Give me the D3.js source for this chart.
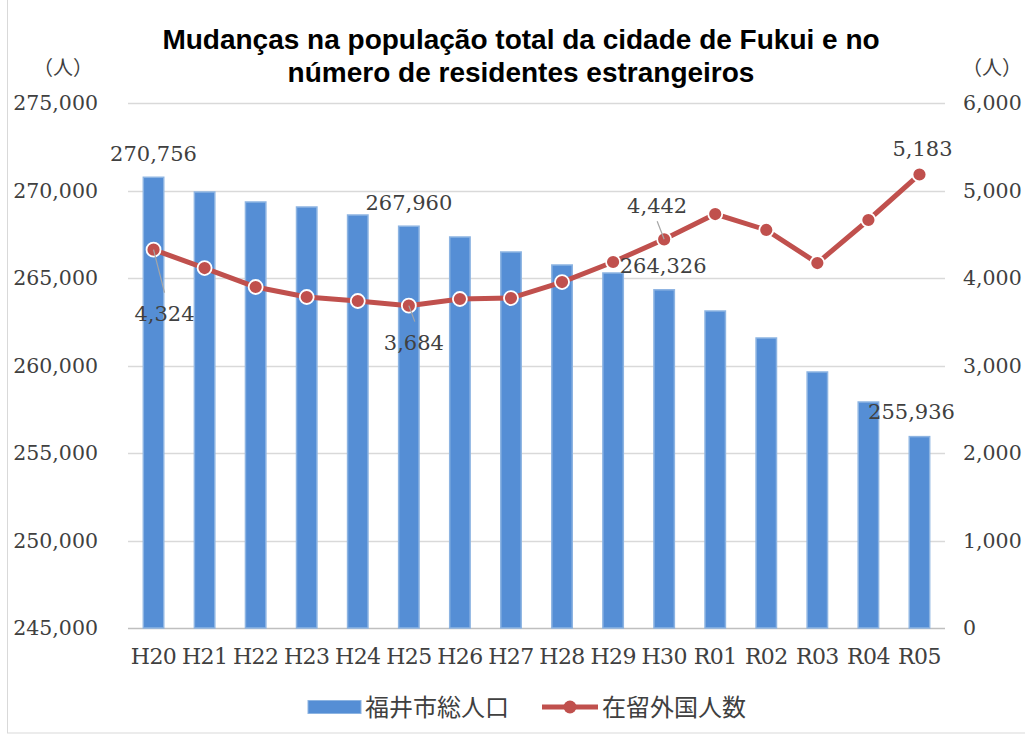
<!DOCTYPE html>
<html>
<head>
<meta charset="utf-8">
<script src="https://cdn.jsdelivr.net/npm/d3@7"></script>
<style>
  body { margin: 0; background: #fff; }
  svg text { font-family: "DejaVu Serif", serif; fill: #404040; }
  .title { font-family: "Liberation Sans", Arial, sans-serif; font-weight: bold; fill: #000; }
  .cjk { font-family: "Noto Sans CJK JP", sans-serif; }
</style>
</head>
<body>
<div id="chart"></div>
<script>
var years = ['H20', 'H21', 'H22', 'H23', 'H24', 'H25', 'H26', 'H27', 'H28', 'H29', 'H30', 'R01', 'R02', 'R03', 'R04', 'R05'];
var population = [270756, 269914, 269343, 269057, 268600, 267960, 267343, 266486, 265743, 265286, 264326, 263114, 261571, 259629, 257914, 255936];
var foreigners = [4324, 4114, 3897, 3783, 3737, 3684, 3760, 3771, 3954, 4183, 4442, 4731, 4549, 4171, 4663, 5183];
var leftTicks = [245000, 250000, 255000, 260000, 265000, 270000, 275000];
var rightTicks = [0, 1000, 2000, 3000, 4000, 5000, 6000];
// which points get a value label
var popLabels = ['H20', 'H25', 'H30', 'R05'];
var forLabels = ['H20', 'H25', 'H30', 'R05'];

var width = 1025, height = 735;
var plotLeft = 128, plotRight = 945, plotTop = 103, plotBottom = 628;

var svg = d3.select('#chart').append('svg')
  .attr('width', width)
  .attr('height', height);

// outer frame
svg.append('rect')
  .attr('x', 7.5).attr('y', -2)
  .attr('width', 1030).attr('height', 735)
  .attr('fill', 'none').attr('stroke', '#d9d9d9');

var x = d3.scaleBand().domain(years).range([plotLeft, plotRight]).paddingInner(0.6).paddingOuter(0.3);
var yL = d3.scaleLinear().domain([245000, 275000]).range([plotBottom, plotTop]);
var yR = d3.scaleLinear().domain([0, 6000]).range([plotBottom, plotTop]);
var fmt = d3.format(',');

// gridlines
svg.append('g').selectAll('line')
  .data(leftTicks)
  .enter().append('line')
  .attr('x1', plotLeft).attr('x2', plotRight)
  .attr('y1', function (d) { return Math.round(yL(d)) + 0.5; })
  .attr('y2', function (d) { return Math.round(yL(d)) + 0.5; })
  .attr('stroke', function (d, i) { return i === 0 ? '#bfbfbf' : '#d9d9d9'; })
  .attr('stroke-width', 1.3);

// axes
var axisL = svg.append('g')
  .attr('transform', `translate(${plotLeft - 30},0)`)
  .call(d3.axisLeft(yL).tickValues(leftTicks).tickFormat(fmt).tickSize(0).tickPadding(0));
var axisR = svg.append('g')
  .attr('transform', `translate(${plotRight + 18},0)`)
  .call(d3.axisRight(yR).tickValues(rightTicks).tickFormat(fmt).tickSize(0).tickPadding(0));
var axisB = svg.append('g')
  .attr('transform', `translate(0,${plotBottom})`)
  .call(d3.axisBottom(x).tickSize(0).tickPadding(20));
[axisL, axisR, axisB].forEach(function (a) {
  a.select('.domain').remove();
  a.selectAll('text').attr('font-family', 'DejaVu Serif').attr('font-size', 20.5).attr('fill', '#595959');
});
axisB.selectAll('text').attr('font-size', 22).attr('letter-spacing', -0.6);

// unit labels
svg.append('text').attr('class', 'cjk').attr('x', 63).attr('y', 75)
  .attr('text-anchor', 'middle').attr('font-size', 20).attr('fill', '#595959').text('（人）');
svg.append('text').attr('class', 'cjk').attr('x', 992).attr('y', 75)
  .attr('text-anchor', 'middle').attr('font-size', 20).attr('fill', '#595959').text('（人）');

// bars
svg.append('g').selectAll('rect')
  .data(years)
  .enter().append('rect')
  .attr('x', function (d) { return x(d); })
  .attr('width', x.bandwidth())
  .attr('y', function (d, i) { return yL(population[i]); })
  .attr('height', function (d, i) { return plotBottom - yL(population[i]); })
  .attr('fill', '#558ed5')
  .attr('stroke', '#8db4e2')
  .attr('stroke-width', 1.5);

// line
var cx = function (d, i) { return x(years[i]) + x.bandwidth() / 2; };
svg.append('path')
  .datum(foreigners)
  .attr('d', d3.line().x(cx).y(function (d) { return yR(d); }))
  .attr('fill', 'none')
  .attr('stroke', '#c0504d')
  .attr('stroke-width', 5);

svg.append('g').selectAll('circle')
  .data(foreigners)
  .enter().append('circle')
  .attr('cx', cx)
  .attr('cy', function (d) { return yR(d); })
  .attr('r', 7)
  .attr('fill', '#c0504d')
  .attr('stroke', '#fff')
  .attr('stroke-width', 1.8);

// data labels for population (offsets relative to bar top)
var popOffsets = { H20: [0, -16], H25: [0, -16], H30: [-1, -17], R05: [-8, -18] };
popLabels.forEach(function (k) {
  var i = years.indexOf(k);
  svg.append('text')
    .attr('x', x(k) + x.bandwidth() / 2 + popOffsets[k][0])
    .attr('y', yL(population[i]) + popOffsets[k][1])
    .attr('text-anchor', 'middle')
    .attr('font-size', 21)
    .text(fmt(population[i]));
});

// data labels for foreigners, leader line end relative to the point
var forOffsets = { H20: [11, 71], H25: [5, 44], H30: [-7, -26], R05: [3, -18] };
var leaderEnds = { H20: [11, 43], H25: [6, 16], H30: [-7, -18], R05: null };
forLabels.forEach(function (k) {
  var i = years.indexOf(k);
  var px = x(k) + x.bandwidth() / 2, py = yR(foreigners[i]);
  var o = forOffsets[k], e = leaderEnds[k];
  if (e) {
    svg.append('line')
      .attr('x1', px).attr('y1', py)
      .attr('x2', px + e[0]).attr('y2', py + e[1])
      .attr('stroke', '#a6a6a6').attr('stroke-width', 1.2);
  }
  svg.append('text')
    .attr('x', px + o[0])
    .attr('y', py + o[1])
    .attr('text-anchor', 'middle')
    .attr('font-size', 21)
    .text(fmt(foreigners[i]));
});

// title
svg.append('text').attr('class', 'title').attr('x', 521).attr('y', 49)
  .attr('text-anchor', 'middle').attr('font-size', 28)
  .text('Mudanças na população total da cidade de Fukui e no');
svg.append('text').attr('class', 'title').attr('x', 521).attr('y', 82)
  .attr('text-anchor', 'middle').attr('font-size', 28)
  .text('número de residentes estrangeiros');

// legend
var legend = svg.append('g').attr('transform', 'translate(0,707)');
legend.append('rect').attr('x', 308).attr('y', -6.5).attr('width', 53).attr('height', 13)
  .attr('fill', '#558ed5').attr('stroke', '#8db4e2');
legend.append('text').attr('class', 'cjk').attr('x', 365).attr('y', 8.5)
  .attr('font-size', 24).attr('fill', '#595959').text('福井市総人口');
legend.append('line').attr('x1', 542).attr('x2', 598).attr('y1', 0).attr('y2', 0)
  .attr('stroke', '#c0504d').attr('stroke-width', 5);
legend.append('circle').attr('cx', 570).attr('cy', 0).attr('r', 6.5)
  .attr('fill', '#c0504d');
legend.append('text').attr('class', 'cjk').attr('x', 602).attr('y', 8.5)
  .attr('font-size', 24).attr('fill', '#595959').text('在留外国人数');
</script>
</body>
</html>
